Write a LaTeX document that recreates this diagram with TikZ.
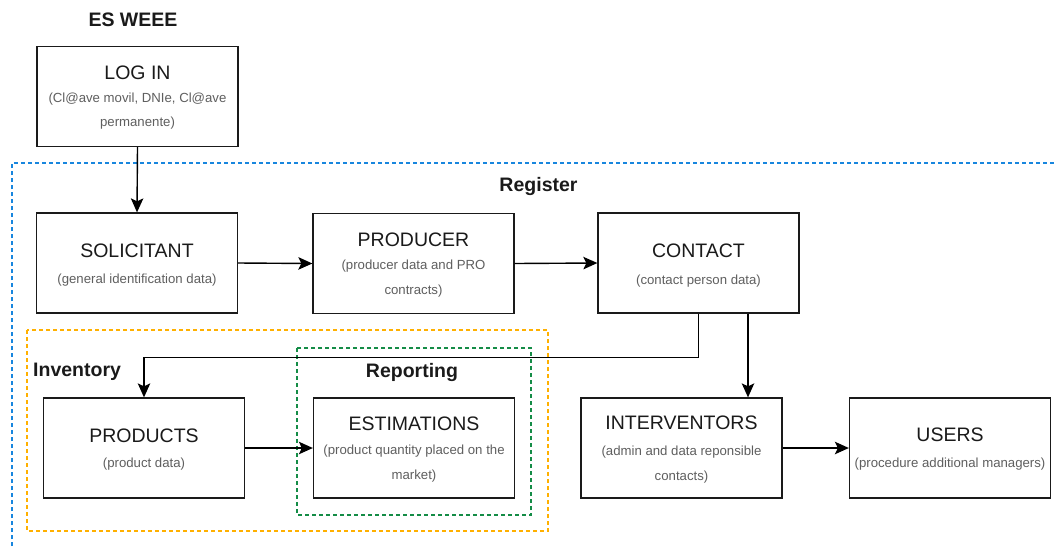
\documentclass[tikz,border=0pt]{standalone}
\usepackage{fontspec}
\setmainfont{Liberation Sans}
\usetikzlibrary{arrows.meta,calc}

\definecolor{ink}{RGB}{26,26,26}
\definecolor{subgray}{RGB}{95,95,95}
\definecolor{regblue}{RGB}{24,134,222}
\definecolor{invorange}{RGB}{255,176,0}
\definecolor{repgreen}{RGB}{20,140,70}

\tikzset{
  box/.style={draw=ink, line width=1.3pt, fill=white, minimum width=201pt,
    minimum height=100pt, inner sep=0pt},
  ttl/.style={text=ink, font=\fontsize{19.5}{22}\selectfont, inner sep=0pt},
  sub/.style={text=subgray, font=\fontsize{13.2}{15}\selectfont, inner sep=0pt},
  grouplabel/.style={text=ink, font=\fontsize{19.5}{22}\selectfont\bfseries, inner sep=0pt},
  arr/.style={draw=black, line width=1.4pt,
    -{Stealth[length=14pt, width=12.5pt, inset=3pt]}},
  frame/.style={line width=1.1pt, dash pattern=on 4pt off 3pt}
}

\begin{document}
\begin{tikzpicture}[x=1pt, y=-1pt]
  \useasboundingbox (0,0) rectangle (1056,547);

  % grouping frames
  \draw[frame, draw=regblue] (12,560) -- (12,163) -- (1070,163);
  \draw[frame, draw=invorange] (27,330) rectangle (548,531);
  \draw[frame, draw=repgreen] (297,348) rectangle (531,515);

  % group titles
  \node[grouplabel] (eswee) at (133,20) {ES WEEE};
  \node[grouplabel] (reglbl) at (538.5,186) {Register};
  \node[grouplabel, anchor=west] (invlbl) at (33,372) {Inventory};
  \node[grouplabel] (replbl) at (412,372) {Reporting};

  % process boxes
  \node[box] (login)  at (137.5,96.5) {};
  \node[box] (solic)  at (137,263) {};
  \node[box] (prod)   at (413.5,263.5) {};
  \node[box] (contact) at (698.5,263) {};
  \node[box] (products) at (144,448) {};
  \node[box] (estim)  at (414,448) {};
  \node[box] (interv) at (681.5,448) {};
  \node[box] (users)  at (950,448) {};

  % box texts
  \node[ttl] (t1) at (137.5,72.5) {LOG IN};
  \node[sub] (s1a) at (137.5,99.5) {(Cl@ave movil, DNIe, Cl@ave};
  \node[sub] (s1b) at (137.5,123.5) {permanente)};

  \node[ttl] (t2) at (137,251) {SOLICITANT};
  \node[sub] (s2) at (137,280) {(general identification data)};

  \node[ttl] (t3) at (413.5,240) {PRODUCER};
  \node[sub] (s3a) at (413.5,266) {(producer data and PRO};
  \node[sub] (s3b) at (413.5,291) {contracts)};

  \node[ttl] (t4) at (698.5,251) {CONTACT};
  \node[sub] (s4) at (698.5,281) {(contact person data)};

  \node[ttl] (t5) at (144,436) {PRODUCTS};
  \node[sub] (s5) at (144,464) {(product data)};

  \node[ttl] (t6) at (414,424) {ESTIMATIONS};
  \node[sub] (s6a) at (414,451) {(product quantity placed on the};
  \node[sub] (s6b) at (414,476) {market)};

  \node[ttl] (t7) at (681.5,423) {INTERVENTORS};
  \node[sub] (s7a) at (681.5,452) {(admin and data reponsible};
  \node[sub] (s7b) at (681.5,477) {contacts)};

  \node[ttl] (t8) at (950,435) {USERS};
  \node[sub] (s8) at (950,464) {(procedure additional managers)};

  % connectors
  \draw[arr] (login.south) -- (solic.north);
  \draw[arr] (solic.east) -- (prod.west);
  \draw[arr] (prod.east) -- (contact.west);
  \draw[arr] (contact.south) -- ++(0,44) -| (products.north);
  \draw[arr] ([xshift=49.5pt]contact.south) -- ([xshift=49.5pt]contact.south |- interv.north);
  \draw[arr] (products.east) -- (estim.west);
  \draw[arr] (interv.east) -- (users.west);
\end{tikzpicture}
\end{document}
